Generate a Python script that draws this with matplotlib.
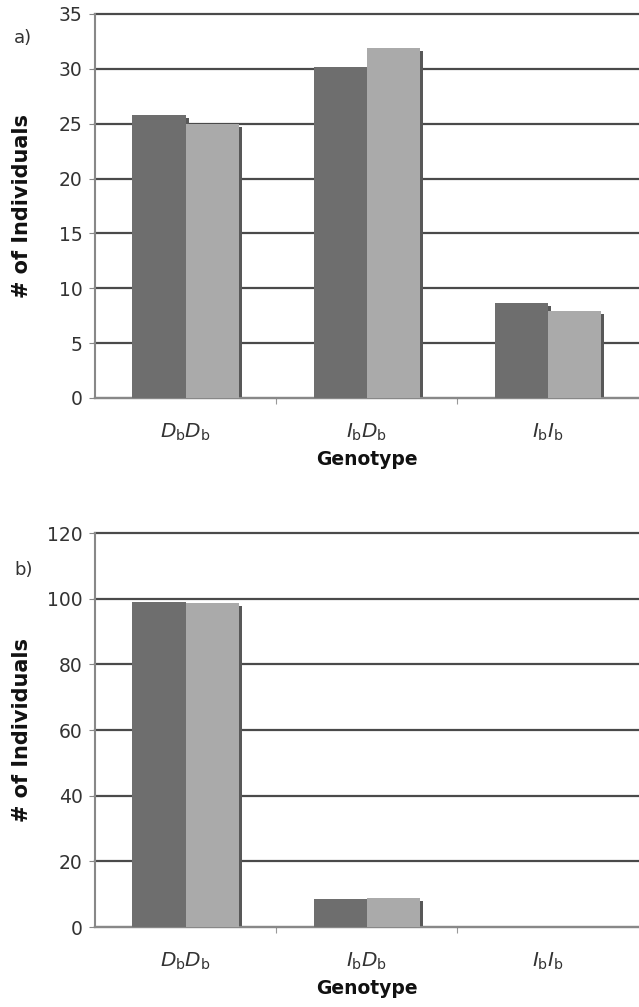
import matplotlib
matplotlib.use('Agg')
import matplotlib.pyplot as plt
import matplotlib.transforms as mtransforms
import numpy as np

plt.rcParams['font.family'] = ['DejaVu Sans']
plt.rcParams['mathtext.fontset'] = 'dejavusans'

genotypes = [r'$D_{\rm b}D_{\rm b}$', r'$I_{\rm b}D_{\rm b}$', r'$I_{\rm b}I_{\rm b}$']

# panel a
a_dark = [25.8, 30.2, 8.7]
a_light = [25.0, 31.9, 7.9]
a_ticks = [0, 5, 10, 15, 20, 25, 30, 35]

# panel b
b_dark = [99, 8.5, 0]
b_light = [98.8, 8.7, 0]
b_ticks = [0, 20, 40, 60, 80, 100, 120]

DARK = '#6e6e6e'
LIGHT = '#aaaaaa'
SHADOW = '#585858'
GRID = '#4a4a4a'
TXT = '#333333'

fig = plt.figure(figsize=(6.39, 10.07), dpi=100)


def panel(rect, dark, light, ticks, tag, tag_dy):
    ax = fig.add_axes(rect)
    x = np.arange(len(genotypes))
    w = 0.293
    # little drop shadow to the right of each bar, like the excel original
    shadow = mtransforms.offset_copy(ax.transData, fig=fig, x=3, y=-3, units='dots')
    for vals, off in [(dark, -w / 2), (light, w / 2)]:
        ax.bar(x + off, vals, w, color=SHADOW, transform=shadow, zorder=2, linewidth=0)
    ax.bar(x - w / 2, dark, w, color=DARK, zorder=3, linewidth=0)
    ax.bar(x + w / 2, light, w, color=LIGHT, zorder=3, linewidth=0)

    ax.set_xlim(-0.5, 2.5)
    ax.set_ylim(0, ticks[-1])
    ax.set_yticks(ticks)
    ax.set_xticks([0.5, 1.5], minor=False)
    ax.set_xticklabels([])
    ax.set_xticks(x, minor=True)
    ax.set_xticklabels(genotypes, minor=True, fontsize=14.5, color=TXT)
    ax.tick_params(axis='x', which='minor', length=0, pad=17)
    ax.tick_params(axis='x', which='major', length=4, color='#999999', direction='out')
    ax.tick_params(axis='y', length=4, color='#888888', labelsize=13.5, labelcolor=TXT, pad=5)

    ax.yaxis.grid(True, color=GRID, linewidth=1.6, zorder=1)
    for gl in ax.get_ygridlines():
        gl.set_clip_on(False)
    ax.set_axisbelow(True)
    for s in ['top', 'right']:
        ax.spines[s].set_visible(False)
    ax.spines['left'].set_color('#888888')
    ax.spines['left'].set_linewidth(1.5)
    ax.spines['bottom'].set_color('#888888')
    ax.spines['bottom'].set_linewidth(1.5)

    ax.set_ylabel('# of Individuals', fontsize=15, fontweight='bold', color='#111111')
    ax.yaxis.set_label_coords(-0.116, 0.5)
    ax.set_xlabel('Genotype', fontsize=13.5, fontweight='bold', labelpad=5, color='#111111')
    fig.text(0.022, rect[1] + rect[3] - tag_dy, tag, fontsize=13, color=TXT)
    return ax


panel([0.1487, 0.6048, 0.85, 0.3813], a_dark, a_light, a_ticks, 'a)', 0.029)
panel([0.1487, 0.0794, 0.85, 0.3913], b_dark, b_light, b_ticks, 'b)', 0.042)

fig.savefig('out.png', dpi=100)
